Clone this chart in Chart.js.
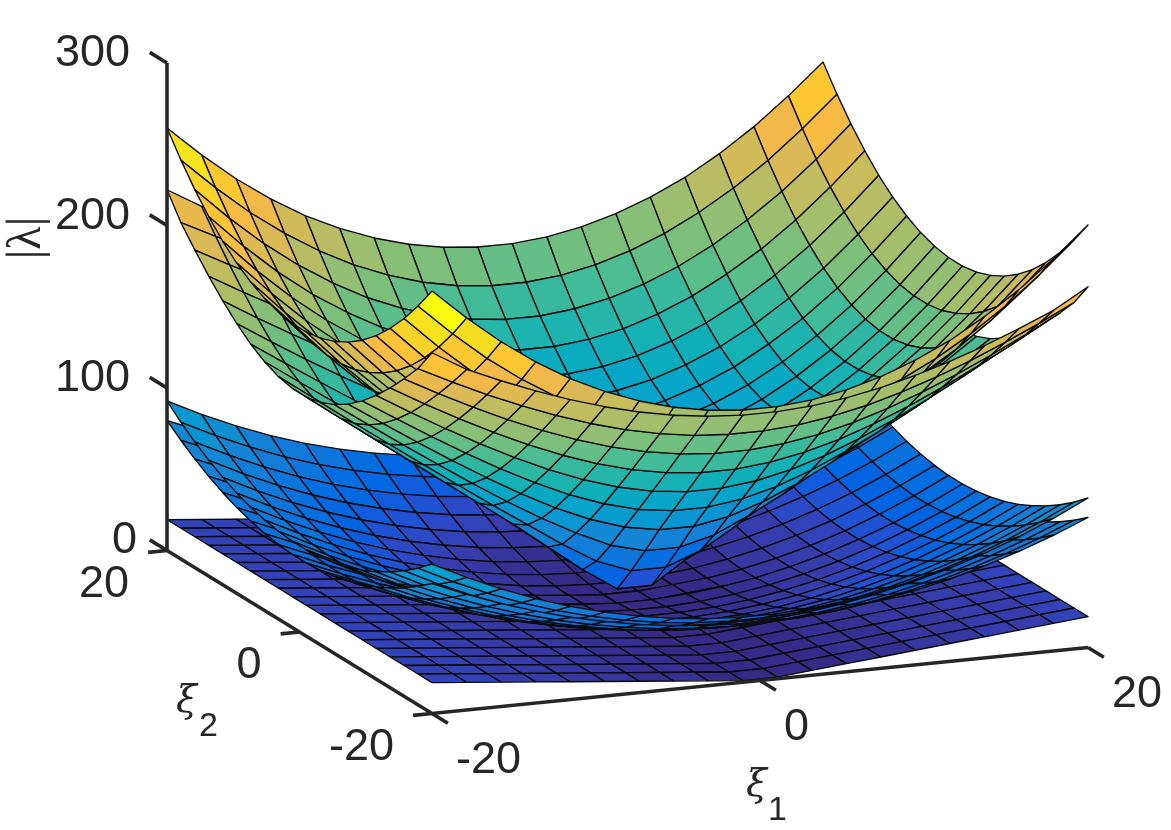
<!DOCTYPE html>
<html>
<head>
<meta charset="utf-8">
<style>
  html, body { margin: 0; padding: 0; background: #fff; }
  canvas { display: block; }
</style>
<script src="https://cdn.jsdelivr.net/npm/chart.js@4"></script>
</head>
<body>
<canvas id="surfaces" width="1171" height="830"></canvas>
<script>
// Positive half of the symmetric wavenumber grid (20 nodes per axis in all).
const xiHalf = [1.05, 3.16, 5.26, 7.37, 9.47, 11.58, 13.68, 15.79, 17.89, 20];

// Eigenvalue magnitudes on one quadrant: rows follow |xi2|, columns follow |xi1|.
const lambdaUpper = [
  [79.5, 82.0, 86.6, 93.9, 103.4, 115.4, 129.7, 146.4, 165.7, 187.2],
  [81.5, 83.9, 88.5, 95.8, 105.3, 117.3, 131.5, 148.2, 167.3, 188.8],
  [85.3, 87.8, 92.4, 99.6, 109.0, 120.9, 135.1, 151.7, 170.8, 192.0],
  [91.1, 93.5, 98.2, 105.3, 114.6, 126.6, 140.4, 156.8, 175.8, 196.9],
  [98.8, 101.2, 105.7, 112.8, 121.9, 133.6, 147.4, 163.7, 182.5, 203.3],
  [108.4, 110.7, 115.3, 122.2, 131.2, 142.7, 156.4, 172.5, 190.9, 211.4],
  [120.0, 122.3, 126.6, 133.5, 142.5, 153.9, 167.1, 182.9, 201.0, 221.2],
  [133.5, 135.8, 140.1, 146.7, 155.4, 166.5, 179.7, 195.1, 212.8, 232.5],
  [149.0, 151.1, 155.4, 161.9, 170.4, 181.2, 194.0, 209.0, 226.3, 245.5],
  [167.5, 169.5, 173.5, 179.5, 187.5, 197.5, 210.0, 224.5, 241.3, 260.0]
];
const lambdaCone = [
  [10.0, 24.0, 40.0, 56.1, 71.2, 86.3, 101.5, 116.7, 131.9, 147.2],
  [26.5, 34.5, 47.0, 61.2, 75.2, 89.7, 104.4, 119.2, 134.1, 149.2],
  [44.0, 49.5, 59.2, 70.4, 82.8, 96.1, 109.9, 124.1, 138.5, 153.1],
  [62.2, 66.0, 72.9, 82.1, 93.0, 105.0, 117.7, 131.1, 144.7, 158.7],
  [79.2, 82.1, 87.7, 95.5, 105.0, 115.7, 127.4, 139.8, 152.7, 166.0],
  [96.2, 98.6, 103.3, 110.0, 118.3, 127.9, 138.5, 150.0, 162.0, 174.7],
  [113.2, 115.3, 119.3, 125.1, 132.4, 141.1, 150.8, 161.4, 172.6, 184.5],
  [130.3, 132.1, 135.6, 140.7, 147.3, 155.1, 163.9, 173.7, 184.2, 195.4],
  [147.3, 148.8, 152.0, 156.6, 162.5, 169.6, 177.7, 186.7, 196.5, 207.0],
  [164.4, 165.8, 168.6, 172.7, 178.1, 184.6, 192.1, 200.5, 209.6, 222.0]
];
const lambdaBowlHigh = [
  [1.2, 2.4, 4.7, 8.2, 12.8, 18.5, 25.4, 33.5, 42.7, 53.1],
  [2.1, 3.3, 5.6, 9.1, 13.7, 19.4, 26.3, 34.4, 43.6, 54.0],
  [3.8, 5.0, 7.3, 10.8, 15.4, 21.1, 28.0, 36.1, 45.3, 55.7],
  [6.4, 7.6, 9.9, 13.4, 18.0, 23.7, 30.6, 38.7, 47.9, 58.3],
  [9.8, 11.0, 13.3, 16.8, 21.4, 27.1, 34.0, 42.1, 51.3, 61.7],
  [14.2, 15.4, 17.7, 21.2, 25.8, 31.5, 38.4, 46.5, 55.7, 66.1],
  [19.4, 20.6, 22.9, 26.4, 31.0, 36.7, 43.6, 51.7, 60.9, 71.3],
  [25.4, 26.6, 28.9, 32.4, 37.0, 42.7, 49.6, 57.7, 66.9, 77.3],
  [32.3, 33.5, 35.8, 39.3, 43.9, 49.6, 56.5, 64.6, 73.8, 84.2],
  [40.1, 41.3, 43.6, 47.1, 51.7, 57.4, 64.3, 72.4, 81.6, 92.0]
];
const lambdaBowlLow = [
  [1.2, 2.2, 4.1, 7.1, 11.0, 15.8, 21.7, 28.5, 36.3, 45.1],
  [2.0, 3.0, 4.9, 7.9, 11.8, 16.6, 22.5, 29.3, 37.1, 45.9],
  [3.5, 4.5, 6.4, 9.4, 13.3, 18.1, 24.0, 30.8, 38.6, 47.4],
  [5.9, 6.9, 8.8, 11.8, 15.7, 20.5, 26.4, 33.2, 41.0, 49.8],
  [8.9, 9.9, 11.8, 14.8, 18.7, 23.5, 29.4, 36.2, 44.0, 52.8],
  [12.8, 13.8, 15.7, 18.7, 22.6, 27.4, 33.3, 40.1, 47.9, 56.7],
  [17.5, 18.5, 20.4, 23.4, 27.3, 32.1, 38.0, 44.8, 52.6, 61.4],
  [22.9, 23.9, 25.8, 28.8, 32.7, 37.5, 43.4, 50.2, 58.0, 66.8],
  [29.1, 30.1, 32.0, 35.0, 38.9, 43.7, 49.6, 56.4, 64.2, 73.0],
  [36.1, 37.1, 39.0, 42.0, 45.9, 50.7, 56.6, 63.4, 71.2, 80.0]
];
// The lowest sheet does not depend on xi2, so a single profile over |xi1| is enough.
const lambdaWedge = [1.0, 3.0, 5.0, 7.0, 9.0, 11.0, 13.0, 15.0, 17.0, 19.0];

const xiTicks = [-20, 0, 20];
const zTicks = [0, 100, 200, 300];
const colourLimit = 260;

// Parula colour table, 64 steps.
const parula = [
  [.2081,.1663,.5292],[.2116,.1898,.5777],[.2123,.2138,.6270],[.2081,.2386,.6771],
  [.1959,.2645,.7279],[.1707,.2919,.7792],[.1253,.3242,.8303],[.0591,.3598,.8683],
  [.0117,.3875,.8820],[.0060,.4086,.8828],[.0165,.4266,.8786],[.0329,.4430,.8720],
  [.0498,.4586,.8641],[.0629,.4737,.8554],[.0723,.4887,.8467],[.0779,.5040,.8384],
  [.0793,.5200,.8312],[.0749,.5375,.8263],[.0641,.5570,.8240],[.0488,.5772,.8228],
  [.0343,.5966,.8199],[.0265,.6137,.8135],[.0239,.6287,.8038],[.0231,.6418,.7913],
  [.0228,.6535,.7768],[.0267,.6642,.7607],[.0384,.6743,.7436],[.0590,.6838,.7254],
  [.0843,.6928,.7062],[.1133,.7015,.6859],[.1453,.7098,.6646],[.1801,.7177,.6424],
  [.2178,.7250,.6193],[.2586,.7317,.5954],[.3022,.7376,.5712],[.3482,.7424,.5473],
  [.3953,.7459,.5244],[.4420,.7481,.5033],[.4871,.7491,.4840],[.5300,.7491,.4661],
  [.5709,.7485,.4494],[.6099,.7473,.4337],[.6473,.7456,.4188],[.6834,.7435,.4044],
  [.7184,.7411,.3905],[.7525,.7384,.3768],[.7858,.7356,.3633],[.8185,.7327,.3498],
  [.8507,.7299,.3360],[.8824,.7274,.3217],[.9139,.7258,.3063],[.9450,.7261,.2886],
  [.9739,.7314,.2666],[.9938,.7455,.2403],[.9990,.7653,.2164],[.9955,.7861,.1967],
  [.9880,.8066,.1794],[.9789,.8271,.1633],[.9697,.8481,.1475],[.9626,.8705,.1309],
  [.9589,.8949,.1132],[.9598,.9218,.0948],[.9661,.9514,.0755],[.9763,.9831,.0538]
];

// Orthographic view: xi1, xi2 and lambda mapped onto the flat plot plane.
const view = { cx: 627.5, cy: 599, x1: 16.4, x2: -6.625, y1: -1.65, y2: -4.075, yz: -1.625 };
const project = (a, b, z) => ({
  x: view.cx + view.x1 * a + view.x2 * b,
  y: view.cy + view.y1 * a + view.y2 * b + view.yz * z
});
const nearness = (a, b, z) => -6.35 * a - 15.88 * b + 0.4255 * z;

const colourFor = z => {
  const k = Math.max(0, Math.min(63, Math.floor(z / colourLimit * 64)));
  const c = parula[k];
  return `rgb(${Math.round(c[0] * 255)},${Math.round(c[1] * 255)},${Math.round(c[2] * 255)})`;
};

// Expand a quadrant table over the full grid by reflection in both axes.
const half = xiHalf.length;
const foldIndex = i => (i < half ? half - 1 - i : i - half);
const axisNodes = [...xiHalf.slice().reverse().map(v => -v), ...xiHalf];
const sheets = [
  (i, j) => lambdaUpper[foldIndex(j)][foldIndex(i)],
  (i, j) => lambdaCone[foldIndex(j)][foldIndex(i)],
  (i, j) => lambdaBowlHigh[foldIndex(j)][foldIndex(i)],
  (i, j) => lambdaBowlLow[foldIndex(j)][foldIndex(i)],
  (i, j) => lambdaWedge[foldIndex(i)]
];
// Which sheets run close together: on walls seen from below, the lower one is in front.
const partnerOf = [1, 0, 3, 2, null];

const cellGeometry = (sheet, i, j) => {
  const corners = [[i, j], [i + 1, j], [i + 1, j + 1], [i, j + 1]];
  const nodes = corners.map(([p, q]) => [axisNodes[p], axisNodes[q], sheet(p, q)]);
  const ring = nodes.map(n => project(n[0], n[1], n[2]));
  let area = 0;
  ring.forEach((p, k) => {
    const n = ring[(k + 1) % 4];
    area += p.x * n.y - n.x * p.y;
  });
  const meanZ = nodes.reduce((s, n) => s + n[2] / 4, 0);
  const a = (axisNodes[i] + axisNodes[i + 1]) / 2;
  const b = (axisNodes[j] + axisNodes[j + 1]) / 2;
  return { ring, underside: area > 0, meanZ, a, b };
};

// One closed polygon per grid cell, coloured by its lowest-index corner.
const cells = [];
sheets.forEach((sheet, s) => {
  for (let i = 0; i < axisNodes.length - 1; i++) {
    for (let j = 0; j < axisNodes.length - 1; j++) {
      const g = cellGeometry(sheet, i, j);
      let near = nearness(g.a, g.b, g.meanZ);
      if (partnerOf[s] !== null && g.underside) {
        const other = cellGeometry(sheets[partnerOf[s]], i, j);
        if (other.underside) {
          const lowerFirst = s === 1 || s === 3 ? 1 : -1;
          near = nearness(g.a, g.b, Math.min(g.meanZ, other.meanZ)) + lowerFirst;
        }
      }
      const ring = g.ring.slice();
      ring.push(ring[0]);
      cells.push({ near, ring, colour: colourFor(sheet(i, j)) });
    }
  }
});
// Chart.js paints the first dataset last, so the nearest cells come first.
cells.sort((p, q) => q.near - p.near);

const stroke = (data, width) => ({
  data, showLine: true, fill: false, pointRadius: 0, borderColor: '#262626',
  borderWidth: width, borderCapStyle: 'butt', borderJoinStyle: 'miter'
});

const axisSets = [
  stroke([project(-20, 20, 0), project(-20, 20, 300)], 3.6),
  stroke([project(-20, 20, 0), project(-20, -20, 0), project(20, -20, 0)], 3.6),
  ...zTicks.map(t => stroke([project(-20, 20, t), project(-20, 22.6, t)], 3.6)),
  ...xiTicks.map(t => stroke([project(t, -20, 0), project(t, -22.4, 0)], 3.6)),
  ...xiTicks.map(t => stroke([project(-20, t, 0), project(-21.15, t, 0)], 3.6))
];

const cellSets = cells.map(c => ({
  data: c.ring, showLine: true, fill: 'shape', backgroundColor: c.colour,
  borderColor: '#0a0a0a', borderWidth: 1.35, pointRadius: 0, tension: 0,
  borderJoinStyle: 'round'
}));

const textColour = '#262626';
const tickFont = '45px "Liberation Sans"';

// Tick numbers and axis titles, placed from the same projection as the marks.
const axisText = {
  id: 'axisText',
  afterDraw(chart) {
    const { ctx, scales } = chart;
    const px = p => ({ x: scales.x.getPixelForValue(p.x), y: scales.y.getPixelForValue(p.y) });
    ctx.save();
    ctx.fillStyle = textColour;
    ctx.textBaseline = 'alphabetic';
    ctx.font = tickFont;

    ctx.textAlign = 'right';
    zTicks.forEach(t => {
      const p = px(project(-20, 20, t));
      ctx.fillText(String(t), p.x - (t === 0 ? 30 : 37), p.y + (t === 0 ? 2 : 3));
    });
    xiTicks.forEach(t => {
      const p = px(project(-20, t, 0));
      ctx.fillText(String(t), p.x - 38, p.y + 46);
    });
    ctx.textAlign = 'left';
    xiTicks.forEach(t => {
      const p = px(project(t, -20, 0));
      ctx.fillText(String(t), p.x + 24, p.y + 59);
    });

    ctx.font = 'italic 38px "DejaVu Serif"';
    ctx.fillText('ξ', 746, 796);
    ctx.fillText('ξ', 176, 712);
    ctx.font = '34px "Liberation Sans"';
    ctx.fillText('1', 768, 820);
    ctx.fillText('2', 199, 736);

    ctx.translate(40, 238);
    ctx.rotate(-Math.PI / 2);
    ctx.textAlign = 'center';
    ctx.font = '48px "Liberation Serif"';
    ctx.fillText('|λ|', 0, 0);
    ctx.restore();
  }
};

new Chart(document.getElementById('surfaces'), {
  type: 'scatter',
  data: { datasets: [...axisSets, ...cellSets] },
  options: {
    responsive: false,
    animation: false,
    events: [],
    layout: { padding: 0 },
    plugins: { legend: { display: false }, tooltip: { enabled: false } },
    scales: {
      x: { type: 'linear', min: 0, max: 1171, display: false },
      y: { type: 'linear', min: 0, max: 830, reverse: true, display: false }
    }
  },
  plugins: [axisText]
});
</script>
</body>
</html>
